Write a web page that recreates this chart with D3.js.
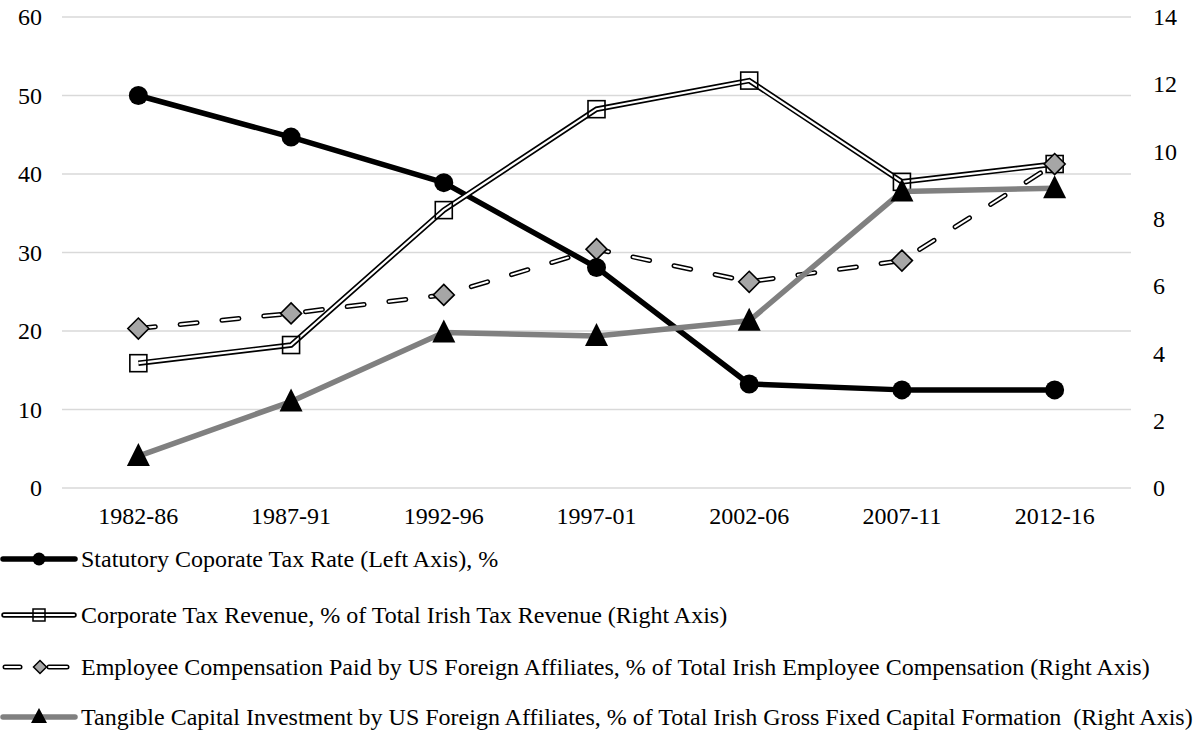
<!DOCTYPE html>
<html>
<head>
<meta charset="utf-8">
<script src="https://cdn.jsdelivr.net/npm/d3@7"></script>
<style>
  html, body { margin: 0; padding: 0; background: #fff; }
  svg { display: block; }
  text { font-family: "Liberation Serif", "Times New Roman", serif; fill: #000; }
</style>
</head>
<body>
<svg id="chart" width="1201" height="731"></svg>
<script>
const categories = ["1982-86", "1987-91", "1992-96", "1997-01", "2002-06", "2007-11", "2012-16"];
const taxRate = [50, 44.7, 38.9, 28.1, 13.25, 12.5, 12.5];          // left axis
const corpTaxRevenue = [3.71, 4.25, 8.26, 11.26, 12.11, 9.1, 9.63]; // right axis
const employeeComp = [4.74, 5.19, 5.74, 7.1, 6.13, 6.76, 9.63];    // right axis
const tangibleCapital = [0.95, 2.57, 4.62, 4.52, 4.97, 8.81, 8.91]; // right axis
const leftTicks = [0, 10, 20, 30, 40, 50, 60];
const rightTicks = [0, 2, 4, 6, 8, 10, 12, 14];
const legendLabels = [
  "Statutory Coporate Tax Rate (Left Axis), %",
  "Corporate Tax Revenue, % of Total Irish Tax Revenue (Right Axis)",
  "Employee Compensation Paid by US Foreign Affiliates, % of Total Irish Employee Compensation (Right Axis)",
  "Tangible Capital Investment by US Foreign Affiliates, % of Total Irish Gross Fixed Capital Formation\u00a0\u00a0(Right Axis)"
];

const svg = d3.select("#chart");
const FS = 24;
const pL = 62, pR = 1131, pT = 17, pB = 488;

const x = d3.scaleBand().domain(categories).range([pL, pR]);
const cx = d => x(d) + x.bandwidth() / 2;
const yL = d3.scaleLinear().domain([0, 60]).range([pB, pT]);
const yR = d3.scaleLinear().domain([0, 14]).range([pB, pT]);

// gridlines
svg.append("g").selectAll("line").data(leftTicks).join("line")
  .attr("x1", pL).attr("x2", pR)
  .attr("y1", d => yL(d)).attr("y2", d => yL(d))
  .attr("stroke", "#d9d9d9").attr("stroke-width", 1.5);

// left axis
const axL = svg.append("g").attr("transform", `translate(${pL},0)`)
  .call(d3.axisLeft(yL).tickValues(leftTicks).tickSize(0).tickPadding(20).tickFormat(d3.format("d")));
axL.select(".domain").remove();
axL.selectAll("text").attr("font-size", FS).attr("font-family", "Liberation Serif");

// right axis
const axR = svg.append("g").attr("transform", `translate(${pR},0)`)
  .call(d3.axisRight(yR).tickValues(rightTicks).tickSize(0).tickPadding(22).tickFormat(d3.format("d")));
axR.select(".domain").remove();
axR.selectAll("text").attr("font-size", FS).attr("font-family", "Liberation Serif");

// x axis
const axX = svg.append("g").attr("transform", `translate(0,${pB})`)
  .call(d3.axisBottom(x).tickSize(0).tickPadding(19));
axX.select(".domain").remove();
axX.selectAll("text").attr("font-size", FS).attr("font-family", "Liberation Serif");

const plot = svg.append("g");
const lineOf = (vals, y) => d3.line().x((d, i) => cx(categories[i])).y(d => y(d))(vals);

// series 1: tax rate
plot.append("path").attr("d", lineOf(taxRate, yL)).attr("fill", "none")
  .attr("stroke", "#000").attr("stroke-width", 5.5).attr("stroke-linejoin", "round");
plot.append("g").selectAll("circle").data(taxRate).join("circle")
  .attr("cx", (d, i) => cx(categories[i])).attr("cy", d => yL(d)).attr("r", 9.5).attr("fill", "#000");

// series 2: corp tax revenue (double line)
plot.append("path").attr("d", lineOf(corpTaxRevenue, yR)).attr("fill", "none")
  .attr("stroke", "#000").attr("stroke-width", 5.5);
plot.append("path").attr("d", lineOf(corpTaxRevenue, yR)).attr("fill", "none")
  .attr("stroke", "#fff").attr("stroke-width", 2.2);
plot.append("g").selectAll("rect").data(corpTaxRevenue).join("rect")
  .attr("x", (d, i) => cx(categories[i]) - 8.5).attr("y", d => yR(d) - 8.5)
  .attr("width", 17).attr("height", 17).attr("fill", "none")
  .attr("stroke", "#000").attr("stroke-width", 1.6);

// series 3: employee compensation (dashed double line)
const dash = "17 25";
plot.append("path").attr("d", lineOf(employeeComp, yR)).attr("fill", "none")
  .attr("stroke", "#000").attr("stroke-width", 5).attr("stroke-dasharray", dash).attr("stroke-linecap", "round");
plot.append("path").attr("d", lineOf(employeeComp, yR)).attr("fill", "none")
  .attr("stroke", "#fff").attr("stroke-width", 2).attr("stroke-dasharray", dash).attr("stroke-linecap", "round");
const diamond = "M0,-10.5L10.5,0L0,10.5L-10.5,0Z";
plot.append("g").selectAll("path").data(employeeComp).join("path")
  .attr("d", diamond)
  .attr("transform", (d, i) => `translate(${cx(categories[i])},${yR(d)})`)
  .attr("fill", "#a6a6a6").attr("stroke", "#000").attr("stroke-width", 1.6);

// series 4: tangible capital
plot.append("path").attr("d", lineOf(tangibleCapital, yR)).attr("fill", "none")
  .attr("stroke", "#808080").attr("stroke-width", 5.5).attr("stroke-linejoin", "round");
const tri = "M0,-13L11.5,10L-11.5,10Z";
plot.append("g").selectAll("path").data(tangibleCapital).join("path")
  .attr("d", tri)
  .attr("transform", (d, i) => `translate(${cx(categories[i])},${yR(d)})`)
  .attr("fill", "#000");

// legend
const legY = [559, 615, 667, 717];
const lg = svg.append("g");
legendLabels.forEach((lab, i) => {
  const g = lg.append("g").attr("transform", `translate(0,${legY[i]})`);
  if (i === 0) {
    g.append("line").attr("x1", 3).attr("x2", 75).attr("stroke", "#000").attr("stroke-width", 5.5).attr("stroke-linecap", "round");
    g.append("circle").attr("cx", 39).attr("r", 6.5).attr("fill", "#000");
  } else if (i === 1) {
    g.append("line").attr("x1", 4).attr("x2", 74).attr("stroke", "#000").attr("stroke-width", 5.5).attr("stroke-linecap", "round");
    g.append("line").attr("x1", 4).attr("x2", 74).attr("stroke", "#fff").attr("stroke-width", 2.2).attr("stroke-linecap", "round");
    g.append("rect").attr("x", 33).attr("y", -6).attr("width", 12).attr("height", 12)
      .attr("fill", "none").attr("stroke", "#000").attr("stroke-width", 1.5);
  } else if (i === 2) {
    [[5, 20], [49, 67]].forEach(([a, b]) => {
      g.append("line").attr("x1", a).attr("x2", b).attr("stroke", "#000").attr("stroke-width", 5).attr("stroke-linecap", "round");
      g.append("line").attr("x1", a).attr("x2", b).attr("stroke", "#fff").attr("stroke-width", 2).attr("stroke-linecap", "round");
    });
    g.append("path").attr("d", "M0,-6.5L6.5,0L0,6.5L-6.5,0Z").attr("transform", "translate(40,0)")
      .attr("fill", "#a6a6a6").attr("stroke", "#000").attr("stroke-width", 1.5);
  } else {
    g.append("line").attr("x1", 3).attr("x2", 75).attr("stroke", "#808080").attr("stroke-width", 5.5).attr("stroke-linecap", "round");
    g.append("path").attr("d", "M0,-9L8,6L-8,6Z").attr("transform", "translate(39,0)").attr("fill", "#000");
  }
  g.append("text").attr("x", 81).attr("y", 0).attr("dy", "0.35em")
    .attr("font-size", FS).text(lab);
});
</script>
</body>
</html>
